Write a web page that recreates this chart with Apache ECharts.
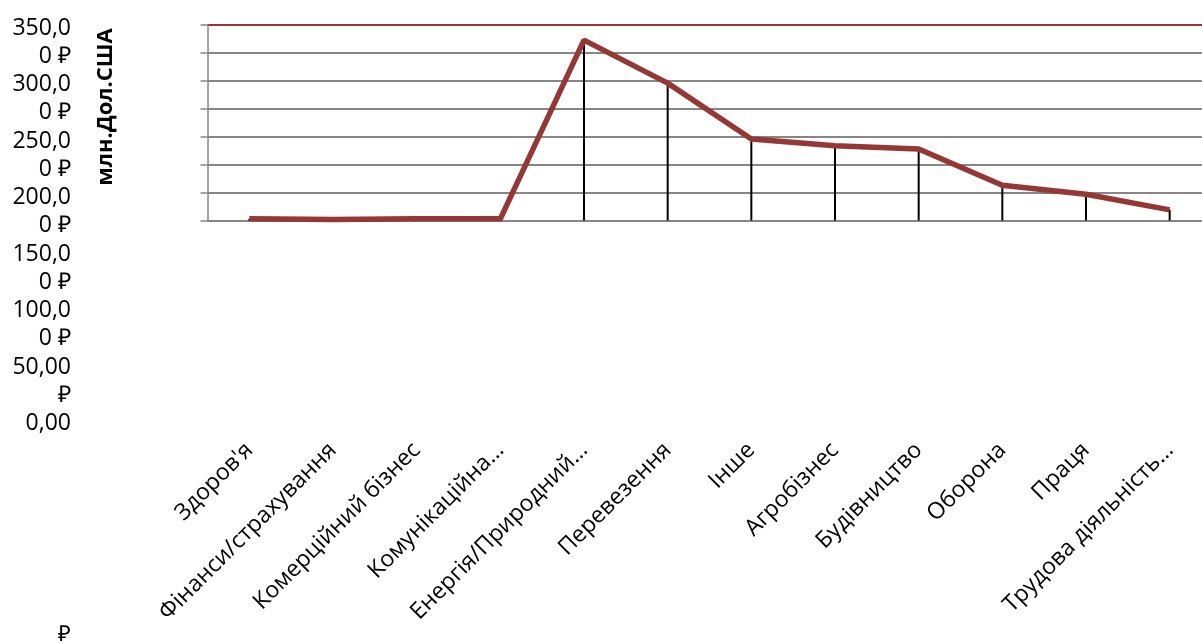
<!DOCTYPE html>
<html>
<head>
<meta charset="utf-8">
<script src="https://cdn.jsdelivr.net/npm/echarts@6/dist/echarts.min.js"></script>
<style>
html,body{margin:0;padding:0;background:#fff;}
#c{width:1202px;height:643px;}
</style>
</head>
<body>
<div id="c"></div>
<script>
var categories = ["Здоров'я", "Фінанси/страхування", "Комерційний бізнес", "Комунікаційна…", "Енергія/Природний…", "Перевезення", "Інше", "Агробізнес", "Будівництво", "Оборона", "Праця", "Трудова діяльність…"];
var values = [3, 2, 3, 3, 323, 246, 146, 134, 128, 63, 47, 19];
var yTickValues = [0, 50, 100, 150, 200, 250, 300, 350];
var yTickLabels = ["0,00\n ", "50,00\n₽", "100,0\n0 ₽", "150,0\n0 ₽", "200,0\n0 ₽", "250,0\n0 ₽", "300,0\n0 ₽", "350,0\n0 ₽"];
var yTitle = "млн.Дол.США";
var strayLabel = "₽";

var FONT = "'Open Sans', sans-serif";
var chart = echarts.init(document.getElementById('c'), null, {renderer: 'canvas'});
var gridColors = ['#868686','#868686','#868686','#868686','#868686','#868686','#868686','#953735'];

chart.setOption({
  animation: false,
  backgroundColor: '#fff',
  grid: [
    {left: 207.5, width: 1004, top: 25, bottom: 422.5, outerBoundsMode: 'none', containLabel: false},
    {left: 79, width: 20, top: 42, bottom: 205.5, outerBoundsMode: 'none', containLabel: false}
  ],
  xAxis: [
    {
      type: 'category', gridIndex: 0, data: categories, boundaryGap: true,
      axisLine: {lineStyle: {color: '#868686', width: 1.5}},
      axisTick: {show: false},
      axisLabel: {rotate: 45, margin: 226, interval: 0, fontFamily: FONT, fontSize: 23, color: '#000'},
      splitLine: {show: false}
    },
    {type: 'category', gridIndex: 1, show: false, data: ['']}
  ],
  yAxis: [
    {
      type: 'value', gridIndex: 0, min: 0, max: 350, interval: 50,
      axisLine: {show: true, lineStyle: {color: '#868686', width: 1.5}},
      axisTick: {show: true, length: 7, lineStyle: {color: '#868686', width: 1.5}},
      axisLabel: {show: false},
      splitLine: {show: true, lineStyle: {color: gridColors, width: 1.8}}
    },
    {
      type: 'value', gridIndex: 1, min: 0, max: 350, interval: 50,
      axisLine: {show: false}, axisTick: {show: false}, splitLine: {show: false},
      axisLabel: {
        margin: 8, fontFamily: FONT, fontSize: 23, color: '#000', lineHeight: 28, align: 'right',
        formatter: function (v) { var i = yTickValues.indexOf(v); return i >= 0 ? yTickLabels[i] : ''; }
      }
    }
  ],
  graphic: [
    {type: 'text', x: 106, y: 107, rotation: Math.PI / 2,
     style: {text: yTitle, fontFamily: FONT, fontSize: 22, fontWeight: 'bold', fill: '#000', textAlign: 'center', textVerticalAlign: 'middle'}},
    {type: 'text', left: 58, top: 624,
     style: {text: strayLabel, fontFamily: FONT, fontSize: 22, fill: '#000'}}
  ],
  series: [
    {type: 'bar', xAxisIndex: 0, yAxisIndex: 0, data: values, barWidth: 2, itemStyle: {color: '#000'}, z: 2, silent: true},
    {type: 'line', xAxisIndex: 0, yAxisIndex: 0, data: values, symbol: 'none', lineStyle: {color: '#953735', width: 5.5}, z: 3, silent: true}
  ]
});
</script>
</body>
</html>
